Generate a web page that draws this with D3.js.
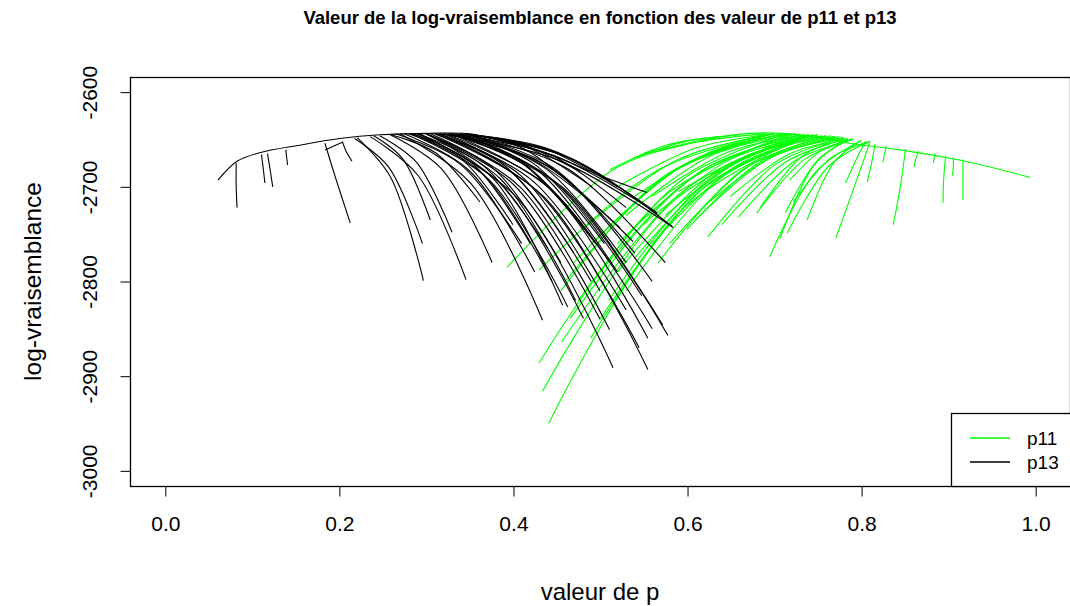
<!DOCTYPE html>
<html><head><meta charset="utf-8">
<script src="https://cdn.jsdelivr.net/npm/d3@7"></script>
<style>body{margin:0;background:#fff}svg{display:block}text{font-family:"Liberation Sans",Arial,sans-serif}</style>
</head><body><svg id="c" width="1070" height="606"></svg>
<script>
const title = "Valeur de la log-vraisemblance en fonction des valeur de p11 et p13";
const xLabel = "valeur de p";
const yLabel = "log-vraisemblance";
const xTicks = [0.0, 0.2, 0.4, 0.6, 0.8, 1.0];
const yTicks = [-3000, -2900, -2800, -2700, -2600];
const seriesNames = ["p11", "p13"];
const seriesColors = ["#00ff00", "#000000"];

// p11 curves (green): each curve is a list of [p, loglik]
const p11Curves = [
  [[0.551,-2664],[0.577,-2659],[0.615,-2651],[0.672,-2643.5],[0.730,-2645],[0.787,-2654],[0.845,-2661],[0.914,-2672],[0.994,-2690]],
  [[0.393,-2785],[0.515,-2682],[0.600,-2655],[0.690,-2644]],
  [[0.430,-2788],[0.565,-2683],[0.700,-2644]],
  [[0.430,-2886],[0.575,-2709],[0.720,-2644]],
  [[0.434,-2916],[0.582,-2717],[0.730,-2644]],
  [[0.441,-2950],[0.591,-2727],[0.740,-2645]],
  [[0.456,-2864],[0.596,-2704],[0.735,-2645]],
  [[0.489,-2860],[0.617,-2703],[0.745,-2645]],
  [[0.466,-2839],[0.596,-2697],[0.725,-2644]],
  [[0.511,-2682],[0.576,-2656],[0.640,-2647]],
  [[0.538,-2670],[0.599,-2652],[0.660,-2645]],
  [[0.567,-2780],[0.664,-2682],[0.760,-2646]],
  [[0.624,-2753],[0.702,-2676],[0.780,-2648]],
  [[0.659,-2732],[0.725,-2672],[0.790,-2650]],
  [[0.680,-2728],[0.735,-2671],[0.790,-2650]],
  [[0.695,-2774],[0.748,-2684],[0.800,-2651]],
  [[0.715,-2749],[0.763,-2678],[0.810,-2652]],
  [[0.722,-2716],[0.766,-2669],[0.810,-2652]],
  [[0.771,-2754],[0.791,-2703],[0.810,-2653]],
  [[0.837,-2740],[0.845,-2700],[0.851,-2660]],
  [[0.894,-2717],[0.895,-2690],[0.897,-2668]],
  [[0.917,-2714],[0.917,-2690],[0.917,-2671]],
  [[0.861,-2679],[0.863,-2670],[0.866,-2662]],
  [[0.883,-2675],[0.884,-2670],[0.885,-2665]],
  [[0.905,-2688],[0.906,-2678],[0.906,-2669]],
  [[0.807,-2695],[0.812,-2675],[0.816,-2655]],
  [[0.825,-2674],[0.827,-2665],[0.829,-2657]],
  [[0.782,-2696],[0.795,-2670],[0.805,-2652]],
  [[0.738,-2735],[0.769,-2674],[0.800,-2651]],
  [[0.713,-2727],[0.752,-2670],[0.790,-2649]],
  [[0.707,-2754],[0.746,-2677],[0.785,-2649]],
  [[0.684,-2722],[0.732,-2668],[0.780,-2648]],
  [[0.718,-2693],[0.754,-2662],[0.790,-2650]],
  [[0.470,-2780],[0.590,-2681],[0.710,-2644]],
  [[0.500,-2790],[0.615,-2684],[0.730,-2645]],
  [[0.520,-2760],[0.630,-2676],[0.740,-2645]],
  [[0.550,-2740],[0.650,-2671],[0.750,-2645]],
  [[0.530,-2810],[0.640,-2690],[0.750,-2646]],
  [[0.575,-2730],[0.668,-2669],[0.760,-2646]],
  [[0.600,-2745],[0.685,-2673],[0.770,-2647]],
  [[0.480,-2745],[0.590,-2671],[0.700,-2644]],
  [[0.540,-2710],[0.630,-2662],[0.720,-2644]],
  [[0.455,-2810],[0.573,-2689],[0.690,-2644]],
  [[0.590,-2705],[0.680,-2663],[0.770,-2647]],
  [[0.500,-2840],[0.623,-2698],[0.745,-2645]],
  [[0.620,-2720],[0.700,-2667],[0.780,-2648]],
  [[0.460,-2800],[0.580,-2686],[0.700,-2644]],
  [[0.475,-2820],[0.595,-2692],[0.715,-2644]],
  [[0.510,-2820],[0.625,-2692],[0.740,-2645]],
  [[0.520,-2790],[0.633,-2684],[0.745,-2645]],
  [[0.540,-2775],[0.645,-2680],[0.750,-2645]],
  [[0.560,-2760],[0.658,-2677],[0.755,-2646]],
  [[0.580,-2760],[0.673,-2677],[0.765,-2646]],
  [[0.610,-2735],[0.693,-2671],[0.775,-2647]],
  [[0.490,-2760],[0.600,-2675],[0.710,-2644]],
  [[0.530,-2730],[0.628,-2667],[0.725,-2644]],
  [[0.560,-2710],[0.648,-2663],[0.735,-2645]],
  [[0.640,-2740],[0.713,-2674],[0.785,-2649]],
  [[0.650,-2710],[0.718,-2665],[0.785,-2649]],
  [[0.520,-2700],[0.610,-2659],[0.700,-2644]]
];

// p13 curves (black)
const p13Curves = [
  [[0.061,-2693],[0.083,-2673],[0.109,-2664],[0.155,-2656],[0.201,-2649],[0.247,-2645],[0.305,-2643.5],[0.351,-2644],[0.385,-2651],[0.443,-2666],[0.500,-2688],[0.554,-2706]],
  [[0.082,-2675],[0.082,-2700],[0.083,-2722]],
  [[0.111,-2666],[0.113,-2680],[0.115,-2696]],
  [[0.118,-2665],[0.121,-2682],[0.124,-2700]],
  [[0.139,-2661],[0.140,-2669],[0.141,-2677]],
  [[0.184,-2654],[0.196,-2690],[0.213,-2738]],
  [[0.204,-2652],[0.208,-2662],[0.215,-2673]],
  [[0.184,-2661],[0.194,-2657],[0.204,-2653]],
  [[0.221,-2648],[0.259,-2689],[0.297,-2799]],
  [[0.218,-2649],[0.257,-2679],[0.296,-2760]],
  [[0.236,-2647],[0.291,-2688],[0.346,-2798]],
  [[0.247,-2646],[0.289,-2674],[0.330,-2748]],
  [[0.259,-2645],[0.318,-2681],[0.376,-2780]],
  [[0.270,-2644],[0.352,-2697],[0.434,-2841]],
  [[0.282,-2644],[0.373,-2693],[0.463,-2827]],
  [[0.290,-2644],[0.386,-2697],[0.481,-2839]],
  [[0.293,-2644],[0.404,-2711],[0.515,-2891]],
  [[0.316,-2644],[0.436,-2711],[0.555,-2893]],
  [[0.305,-2644],[0.408,-2700],[0.511,-2851]],
  [[0.328,-2644],[0.442,-2702],[0.555,-2860]],
  [[0.333,-2644],[0.453,-2699],[0.572,-2846]],
  [[0.339,-2644],[0.459,-2702],[0.578,-2857]],
  [[0.316,-2644],[0.450,-2671],[0.584,-2743]],
  [[0.328,-2644],[0.447,-2667],[0.566,-2728]],
  [[0.260,-2645],[0.311,-2664],[0.362,-2716]],
  [[0.300,-2644],[0.379,-2693],[0.457,-2825]],
  [[0.330,-2644],[0.434,-2675],[0.538,-2758]],
  [[0.320,-2644],[0.422,-2671],[0.523,-2743]],
  [[0.340,-2644],[0.409,-2655],[0.477,-2684]],
  [[0.345,-2644],[0.418,-2659],[0.491,-2700]],
  [[0.350,-2645],[0.458,-2667],[0.565,-2727]],
  [[0.355,-2645],[0.469,-2671],[0.583,-2742]],
  [[0.275,-2644],[0.350,-2683],[0.425,-2790]],
  [[0.285,-2644],[0.365,-2686],[0.445,-2800]],
  [[0.310,-2644],[0.400,-2686],[0.490,-2800]],
  [[0.320,-2644],[0.410,-2689],[0.500,-2810]],
  [[0.300,-2644],[0.386,-2692],[0.472,-2820]],
  [[0.338,-2644],[0.429,-2683],[0.520,-2790]],
  [[0.345,-2644],[0.438,-2681],[0.530,-2780]],
  [[0.326,-2644],[0.418,-2680],[0.510,-2778]],
  [[0.350,-2645],[0.445,-2679],[0.540,-2770]],
  [[0.265,-2644],[0.338,-2675],[0.410,-2760]],
  [[0.290,-2644],[0.365,-2677],[0.440,-2765]],
  [[0.240,-2646],[0.273,-2670],[0.305,-2735]],
  [[0.360,-2646],[0.445,-2667],[0.530,-2722]],
  [[0.355,-2645],[0.413,-2660],[0.470,-2700]],
  [[0.330,-2644],[0.405,-2670],[0.480,-2740]],
  [[0.310,-2644],[0.428,-2705],[0.545,-2870]],
  [[0.322,-2644],[0.441,-2700],[0.560,-2850]],
  [[0.335,-2644],[0.442,-2690],[0.548,-2815]],
  [[0.315,-2644],[0.423,-2694],[0.530,-2830]],
  [[0.300,-2644],[0.400,-2697],[0.500,-2840]],
  [[0.345,-2644],[0.453,-2686],[0.560,-2800]],
  [[0.350,-2645],[0.463,-2681],[0.575,-2780]],
  [[0.340,-2644],[0.423,-2675],[0.505,-2760]],
  [[0.325,-2644],[0.410,-2675],[0.495,-2760]],
  [[0.312,-2644],[0.391,-2678],[0.470,-2770]],
  [[0.300,-2644],[0.378,-2681],[0.455,-2780]],
  [[0.285,-2644],[0.353,-2675],[0.420,-2760]],
  [[0.280,-2644],[0.340,-2670],[0.400,-2740]],
  [[0.360,-2646],[0.440,-2661],[0.520,-2700]],
  [[0.365,-2646],[0.455,-2665],[0.545,-2715]],
  [[0.370,-2647],[0.438,-2659],[0.505,-2690]]
];

const box = {left:130, right:1070, top:77, bottom:486};
const x = d3.scaleLinear().domain([-0.04, 1.04]).range([box.left, box.right]);
const y = d3.scaleLinear().domain([-3016, -2584]).range([box.bottom, box.top]);
const svg = d3.select("#c");

svg.append("text").attr("x", (box.left+box.right)/2).attr("y", 24)
  .attr("text-anchor","middle").attr("font-weight","bold").attr("font-size",18.5)
  .text(title);

const plot = svg.append("g");
const line = d3.line().x(d=>x(d[0])).y(d=>y(d[1])).curve(d3.curveCatmullRom.alpha(0.5));
[[p11Curves, seriesColors[0]], [p13Curves, seriesColors[1]]].forEach(([curves,col]) => {
  plot.selectAll(null).data(curves).enter().append("path")
    .attr("d", line).attr("fill","none").attr("stroke",col).attr("stroke-width",1.1);
});

// box
svg.append("rect").attr("x",box.left+0.5).attr("y",box.top+0.5)
  .attr("width",box.right-box.left).attr("height",box.bottom-box.top)
  .attr("fill","none").attr("stroke","#000").attr("stroke-width",1.3);

// axes
const xAxis = d3.axisBottom(x).tickValues(xTicks).tickFormat(d3.format(".1f")).tickSize(10).tickPadding(20);
const gx = svg.append("g").attr("transform",`translate(0.5,${box.bottom+0.5})`).call(xAxis);
gx.select(".domain").attr("d", `M${x(0)},0H${x(1)}`).attr("stroke","#000");
gx.selectAll("text").attr("font-size",21).attr("fill","#000").style("font-family","Liberation Sans, Arial, sans-serif");

const yAxis = d3.axisLeft(y).tickValues(yTicks).tickFormat(d => String(d)).tickSize(10).tickPadding(10);
const gy = svg.append("g").attr("transform",`translate(${box.left+0.5},0.5)`).call(yAxis);
gy.select(".domain").attr("d", `M0,${y(-3000)}V${y(-2600)}`).attr("stroke","#000");
gy.selectAll(".tick").attr("transform", null);
gy.selectAll(".tick line").attr("transform", d=>`translate(0,${y(d)})`);
gy.selectAll("text").attr("font-size",21).attr("fill","#000")
  .style("font-family","Liberation Sans, Arial, sans-serif")
  .attr("text-anchor","middle").attr("x",0).attr("y",0).attr("dy",0)
  .attr("transform", d => `translate(-34,${y(d)}) rotate(-90)`);

svg.append("text").attr("x",(box.left+box.right)/2).attr("y",600)
  .attr("text-anchor","middle").attr("font-size",24).text(xLabel);
svg.append("text").attr("transform",`translate(41,${(box.top+box.bottom)/2}) rotate(-90)`)
  .attr("text-anchor","middle").attr("font-size",24.5).text(yLabel);

// legend
const lg = svg.append("g");
lg.append("rect").attr("x",951.5).attr("y",413.5).attr("width",130).attr("height",73)
  .attr("fill","#fff").attr("stroke","#000").attr("stroke-width",1.3);
seriesNames.forEach((n,i)=>{
  const yy = 438 + i*24;
  lg.append("line").attr("x1",970).attr("x2",1010).attr("y1",yy).attr("y2",yy)
    .attr("stroke",seriesColors[i]).attr("stroke-width",1.5);
  lg.append("text").attr("x",1027).attr("y",yy+7).attr("font-size",19).text(n);
});
</script></body></html>
